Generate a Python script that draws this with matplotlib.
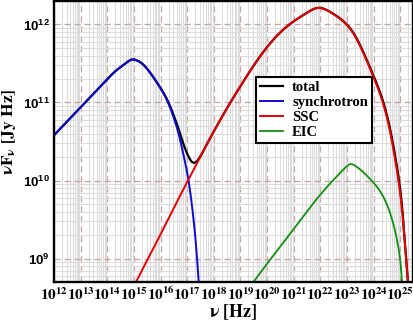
import numpy as np
import matplotlib
matplotlib.use('Agg')
import matplotlib.pyplot as plt
from matplotlib.ticker import LogLocator, NullFormatter, FixedLocator

# values (log10 of nu [Hz], log10 of nuF_nu [Jy Hz])
sync_logx = [12.0, 12.5, 13.0, 13.5, 14.0, 14.3, 14.6, 14.8, 14.92, 15.1, 15.3, 15.61,
             16.0, 16.24, 16.5, 16.7, 16.88, 17.05, 17.2, 17.36, 17.45, 17.5]
sync_logy = [10.58, 10.76, 10.94, 11.12, 11.30, 11.40, 11.48, 11.53, 11.55, 11.54, 11.50, 11.38,
             11.18, 11.03, 10.80, 10.57, 10.30, 10.0, 9.62, 9.05, 8.6, 8.3]

ssc_logx = [14.8, 15.08, 15.5, 16.0, 16.5, 17.0, 17.5, 18.0, 18.5, 19.0, 19.5, 20.0, 20.5,
            21.0, 21.5, 21.87, 22.2, 22.5, 22.75, 23.0, 23.3, 23.63, 24.0, 24.36, 24.6,
            24.8, 24.95, 25.1, 25.22, 25.32, 25.4]
ssc_logy = [8.51, 8.7, 8.98, 9.31, 9.65, 9.98, 10.31, 10.63, 10.93, 11.21, 11.475, 11.71, 11.90,
            12.04, 12.15, 12.21, 12.19, 12.13, 12.07, 11.99, 11.85, 11.62, 11.32, 10.98, 10.65,
            10.28, 9.95, 9.5, 9.0, 8.55, 8.1]

eic_logx = [19.3, 19.49, 20.15, 21.0, 22.0, 22.47, 22.75, 22.95, 23.13, 23.3, 23.5, 23.75,
            24.05, 24.35, 24.6, 24.8, 24.94, 25.02, 25.07, 25.12]
eic_logy = [8.61, 8.7, 9.0, 9.38, 9.82, 10.0, 10.1, 10.17, 10.21, 10.19, 10.14, 10.06,
            9.95, 9.8, 9.6, 9.36, 9.12, 8.9, 8.65, 8.3]

decades = list(range(12, 26))
ydecades = [9, 10, 11, 12]


def spline(x, y, xs):
    # natural cubic spline through the read points, -inf outside them
    x = np.asarray(x, float)
    y = np.asarray(y, float)
    n = len(x)
    h = np.diff(x)
    A = np.zeros((n, n))
    b = np.zeros(n)
    A[0, 0] = A[-1, -1] = 1.0
    for i in range(1, n - 1):
        A[i, i - 1] = h[i - 1]
        A[i, i] = 2 * (h[i - 1] + h[i])
        A[i, i + 1] = h[i]
        b[i] = 6 * ((y[i + 1] - y[i]) / h[i] - (y[i] - y[i - 1]) / h[i - 1])
    M = np.linalg.solve(A, b)
    out = np.full_like(xs, -np.inf)
    inside = (xs >= x[0]) & (xs <= x[-1])
    k = np.clip(np.searchsorted(x, xs[inside]) - 1, 0, n - 2)
    t = xs[inside]
    dx0 = t - x[k]
    dx1 = x[k + 1] - t
    hk = h[k]
    out[inside] = (M[k] * dx1 ** 3 / (6 * hk) + M[k + 1] * dx0 ** 3 / (6 * hk)
                   + (y[k] / hk - M[k] * hk / 6) * dx1 + (y[k + 1] / hk - M[k + 1] * hk / 6) * dx0)
    return out


# common grid, total = sum of the components
grid = np.linspace(12.0, 25.5, 3000)
sync = 10 ** spline(sync_logx, sync_logy, grid)
ssc = 10 ** spline(ssc_logx, ssc_logy, grid)
eic = 10 ** spline(eic_logx, eic_logy, grid)
total = sync + ssc + eic
nu = 10 ** grid

plt.rcParams['mathtext.fontset'] = 'custom'
plt.rcParams['mathtext.rm'] = 'Liberation Sans:bold'
plt.rcParams['mathtext.bf'] = 'Liberation Sans:bold'

fig = plt.figure(figsize=(4.14, 3.21), dpi=100)
ax = fig.add_axes([54/414, 1 - 282/321, 359/414, 281/321])


def masked(y):
    y = y.copy()
    y[y <= 0] = np.nan
    return y


ax.plot(nu, masked(total), color='black', lw=1.6, label='total', zorder=3)
ax.plot(nu, masked(sync), color='#0a0ad8', lw=1.4, label='synchrotron', zorder=4)
ax.plot(nu, masked(ssc), color='#ee0000', lw=1.4, label='SSC', zorder=4)
ax.plot(nu, masked(eic), color='#0f900f', lw=1.3, label='EIC', zorder=4)

ax.set_xscale('log')
ax.set_yscale('log')
ax.set_xlim(1e12, 3e25)
ax.set_ylim(5e8, 2e12)

ax.xaxis.set_major_locator(FixedLocator([10.0 ** d for d in decades]))
ax.yaxis.set_major_locator(FixedLocator([10.0 ** d for d in ydecades]))
ax.xaxis.set_minor_locator(LogLocator(base=10, subs=np.arange(2, 10), numticks=100))
ax.yaxis.set_minor_locator(LogLocator(base=10, subs=np.arange(2, 10), numticks=100))
ax.xaxis.set_minor_formatter(NullFormatter())
ax.yaxis.set_minor_formatter(NullFormatter())

ax.set_xticklabels([r'$\mathbf{10^{%d}}$' % d for d in decades])
ax.set_yticklabels([r'$\mathbf{10^{%d}}$' % d for d in ydecades])
for t in ax.get_xticklabels():
    t.set_math_fontfamily('stix')
    t.set_fontsize(11)
for t in ax.get_yticklabels():
    t.set_fontsize(9.5)

ax.tick_params(which='both', length=0)
ax.tick_params(axis='x', pad=3)
ax.tick_params(axis='y', pad=3)

ax.grid(which='minor', color='#dcdcdc', lw=0.8, ls='-', zorder=0)
ax.grid(which='major', color='#c9a3a3', lw=0.9, ls=(0, (5, 3)), zorder=1)
ax.set_axisbelow(True)

for s in ax.spines.values():
    s.set_linewidth(1.7)
    s.set_zorder(6)

ax.set_xlabel(r'$\mathbf{\nu\ [Hz]}$', fontsize=13, math_fontfamily='stix')
ax.set_ylabel(r'$\mathbf{\nu F_{\nu}\ [Jy\ Hz]}$', fontsize=12.5, math_fontfamily='stix')
ax.xaxis.set_label_coords(0.5, -0.072)
ax.yaxis.set_label_coords(-0.10, 0.534)
ax.xaxis.label.set_va('top')

leg = ax.legend(loc='center', bbox_to_anchor=(314/414, 1 - 110/321),
                bbox_transform=fig.transFigure, fancybox=False, framealpha=1,
                edgecolor='black', borderpad=0.3, handlelength=1.6, handletextpad=0.6,
                labelspacing=0.12, borderaxespad=0,
                prop={'family': 'Liberation Serif', 'weight': 'bold', 'size': 10.5})
leg.get_frame().set_linewidth(1.5)
leg.set_zorder(10)

plt.savefig('out.png', dpi=100)
